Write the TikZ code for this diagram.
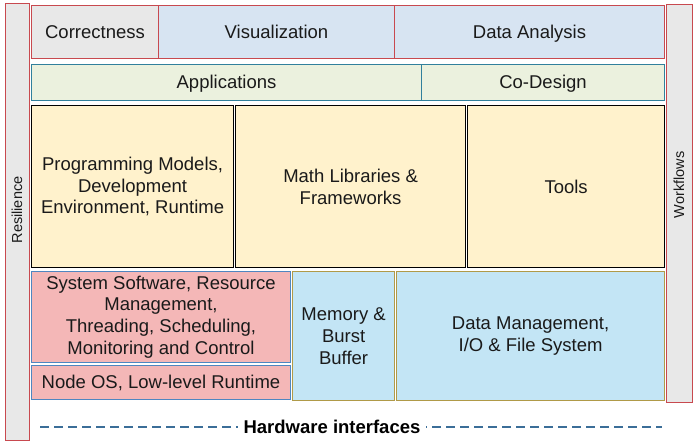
\documentclass[tikz,border=0pt]{standalone}
\usepackage{fontspec}
\setmainfont{Liberation Sans}
\definecolor{redb}{HTML}{C8494F}
\definecolor{grayf}{HTML}{E8E8E8}
\definecolor{bluef}{HTML}{D7E4F2}
\definecolor{greenf}{HTML}{EBF1DE}
\definecolor{tealb}{HTML}{31809C}
\definecolor{yellowf}{HTML}{FFF2CC}
\definecolor{pinkf}{HTML}{F4B7B7}
\definecolor{blueb}{HTML}{4F86C0}
\definecolor{cyanf}{HTML}{C3E5F5}
\definecolor{goldb}{HTML}{B09A48}
\definecolor{dashc}{HTML}{3B6E98}
\definecolor{txt}{HTML}{1A1A1A}
\tikzset{
  blk/.style={draw, rectangle, inner sep=0pt, anchor=north west, align=center,
    text=txt, font=\fontsize{18.5}{21.7}\selectfont, line width=1pt},
  oneline/.style={text height=13.3pt, text depth=0.6pt},
  toprow/.style={blk, oneline, draw=redb, minimum height=53pt},
  approw/.style={blk, oneline, draw=tealb, fill=greenf, minimum height=36pt},
  midrow/.style={blk, draw=black, fill=yellowf, line width=1.2pt, minimum height=162pt},
  sysbox/.style={blk, draw=blueb, fill=pinkf},
  iobox/.style={blk, draw=goldb, fill=cyanf, line width=1.2pt, minimum height=129pt},
  sidebar/.style={blk, draw=redb, fill=grayf, line width=1.2pt},
  sidelabel/.style={rotate=90, text=txt, font=\fontsize{14.5}{16}\selectfont, inner sep=0pt},
}
\begin{document}
\begin{tikzpicture}[x=1pt, y=-1pt]
\useasboundingbox (0,0) rectangle (697,447);
% side bars
\node[sidebar, minimum width=24pt, minimum height=437pt] (res) at (5,3) {};
\node[sidebar, minimum width=26pt, minimum height=398pt] (wf) at (666,4) {};
\node[sidelabel] (reslabel) at (17,210) {Resilience};
\node[sidelabel] (wflabel) at (679,185) {Workflows};
% top row
\node[toprow, fill=grayf, minimum width=127pt] (cor) at (31,5) {Correctness};
\node[toprow, fill=bluef, minimum width=236pt] (vis) at (158,5) {Visualization};
\node[toprow, fill=bluef, minimum width=270pt] (dat) at (394,5) {Data Analysis};
% applications row
\node[approw, minimum width=390pt] (app) at (31,64) {Applications};
\node[approw, minimum width=243pt] (cod) at (421,64) {Co-Design};
% middle row
\node[midrow, minimum width=202pt] (pm) at (31,105) {Programming Models,\\Development\\Environment, Runtime};
\node[midrow, minimum width=230pt] (ml) at (235,105) {Math Libraries \&\\Frameworks};
\node[midrow, minimum width=197pt] (tl) at (467,105) {Tools};
% lower row
\node[sysbox, minimum width=259pt, minimum height=91pt] (ss) at (31,271) {System Software, Resource\\Management,\\Threading, Scheduling,\\Monitoring and Control};
\node[sysbox, minimum width=259pt, minimum height=34pt] (nos) at (31,365) {Node OS, Low-level Runtime};
\node[iobox, minimum width=102pt] (mem) at (292,271) {Memory \&\\Burst\\Buffer};
\node[iobox, minimum width=268pt] (dm) at (396,271) {Data Management,\\I/O \& File System};
% hardware interfaces
\coordinate (hwL) at (40,427);
\coordinate (hwR) at (662,427);
\draw[dashc, line width=2pt, dash pattern=on 9pt off 5pt] (hwL) -- (hwR);
\node[fill=white, inner xsep=6pt, inner ysep=2pt, text=black,
  font=\fontsize{18.5}{21.7}\selectfont\bfseries] (hw) at (332,427) {Hardware interfaces};
\end{tikzpicture}
\end{document}
